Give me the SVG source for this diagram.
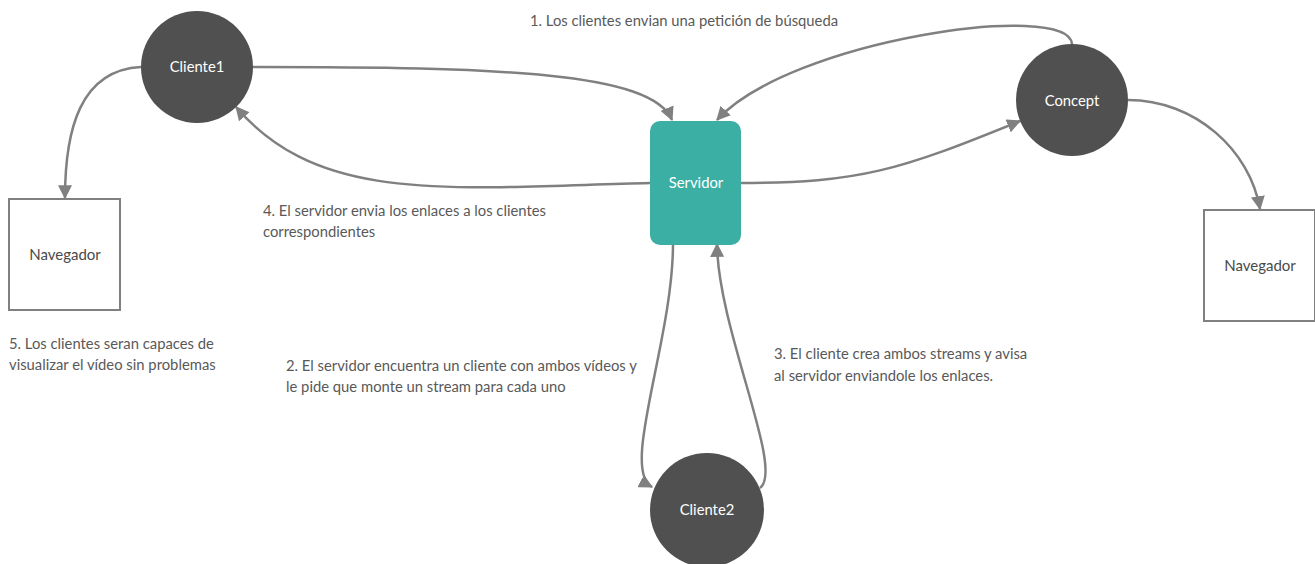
<svg xmlns="http://www.w3.org/2000/svg" width="1315" height="564" viewBox="0 0 1315 564">
  <style>
    .lbl { font-family: Lato, "Liberation Sans", sans-serif; font-size: 14.8px; fill: #595959; }
    .node-text { font-family: Lato, "Liberation Sans", sans-serif; font-size: 14.8px; fill: #ffffff; text-anchor: middle; }
    .box-text { font-family: Lato, "Liberation Sans", sans-serif; font-size: 15px; fill: #4a4a4a; text-anchor: middle; }
    .dark { fill: #505050; }
    .box { fill: #ffffff; stroke: #808080; stroke-width: 2; }
    .edge { fill: none; stroke: #808080; stroke-width: 2.5; }
  </style>
  <defs>
    <marker id="arrow" viewBox="0 0 12 12" refX="11" refY="6" markerWidth="14" markerHeight="14" markerUnits="userSpaceOnUse" orient="auto">
      <path d="M0,0 L12,6 L0,12 Z" fill="#808080"/>
    </marker>
  </defs>

  <rect width="1315" height="564" fill="#ffffff"/>

  <!-- connectors -->
  <g id="connectors">
    <path class="edge" marker-end="url(#arrow)" d="M253,67 C500,67 652,72 672,120"/>
    <path class="edge" marker-end="url(#arrow)" d="M1072,44 C1068,0 790,40 717,120"/>
    <path class="edge" marker-end="url(#arrow)" d="M650,183 C450,188 320,205 236,107"/>
    <path class="edge" marker-end="url(#arrow)" d="M740,183 C860,183 900,170 1020,121"/>
    <path class="edge" marker-end="url(#arrow)" d="M673,244 C673,340 620,470 652,487"/>
    <path class="edge" marker-end="url(#arrow)" d="M760,488 C785,470 718,330 717,244"/>
    <path class="edge" marker-end="url(#arrow)" d="M141,67 C80,70 65,130 65,198"/>
    <path class="edge" marker-end="url(#arrow)" d="M1128,100 C1195,100 1250,150 1260,209"/>
  </g>

  <!-- nodes -->
  <g id="cliente1">
    <circle class="dark" cx="197" cy="67" r="56"/>
    <text class="node-text" x="197" y="72">Cliente1</text>
  </g>
  <g id="concept">
    <circle class="dark" cx="1072" cy="100" r="56"/>
    <text class="node-text" x="1072" y="106">Concept</text>
  </g>
  <g id="servidor">
    <rect x="650" y="121" width="91" height="124" rx="10" fill="#3bafa3"/>
    <text class="node-text" x="696" y="188">Servidor</text>
  </g>
  <g id="cliente2">
    <circle class="dark" cx="707" cy="510" r="57"/>
    <text class="node-text" x="707" y="515">Cliente2</text>
  </g>
  <g id="navegador-left">
    <rect class="box" x="9" y="199" width="111" height="111"/>
    <text class="box-text" x="65" y="260">Navegador</text>
  </g>
  <g id="navegador-right">
    <rect class="box" x="1204" y="210" width="111" height="111"/>
    <text class="box-text" x="1260" y="271">Navegador</text>
  </g>

  <!-- step labels -->
  <g id="labels">
    <text class="lbl" x="530" y="26">1. Los clientes envian una petición de búsqueda</text>
    <text class="lbl" x="263" y="216">4. El servidor envia los enlaces a los clientes</text>
    <text class="lbl" x="263" y="237">correspondientes</text>
    <text class="lbl" x="9" y="349">5. Los clientes seran capaces de</text>
    <text class="lbl" x="9" y="370">visualizar el vídeo sin problemas</text>
    <text class="lbl" x="286" y="371">2. El servidor encuentra un cliente con ambos vídeos y</text>
    <text class="lbl" x="286" y="392">le pide que monte un stream para cada uno</text>
    <text class="lbl" x="774" y="359">3. El cliente crea ambos streams y avisa</text>
    <text class="lbl" x="774" y="381">al servidor enviandole los enlaces.</text>
  </g>
</svg>
